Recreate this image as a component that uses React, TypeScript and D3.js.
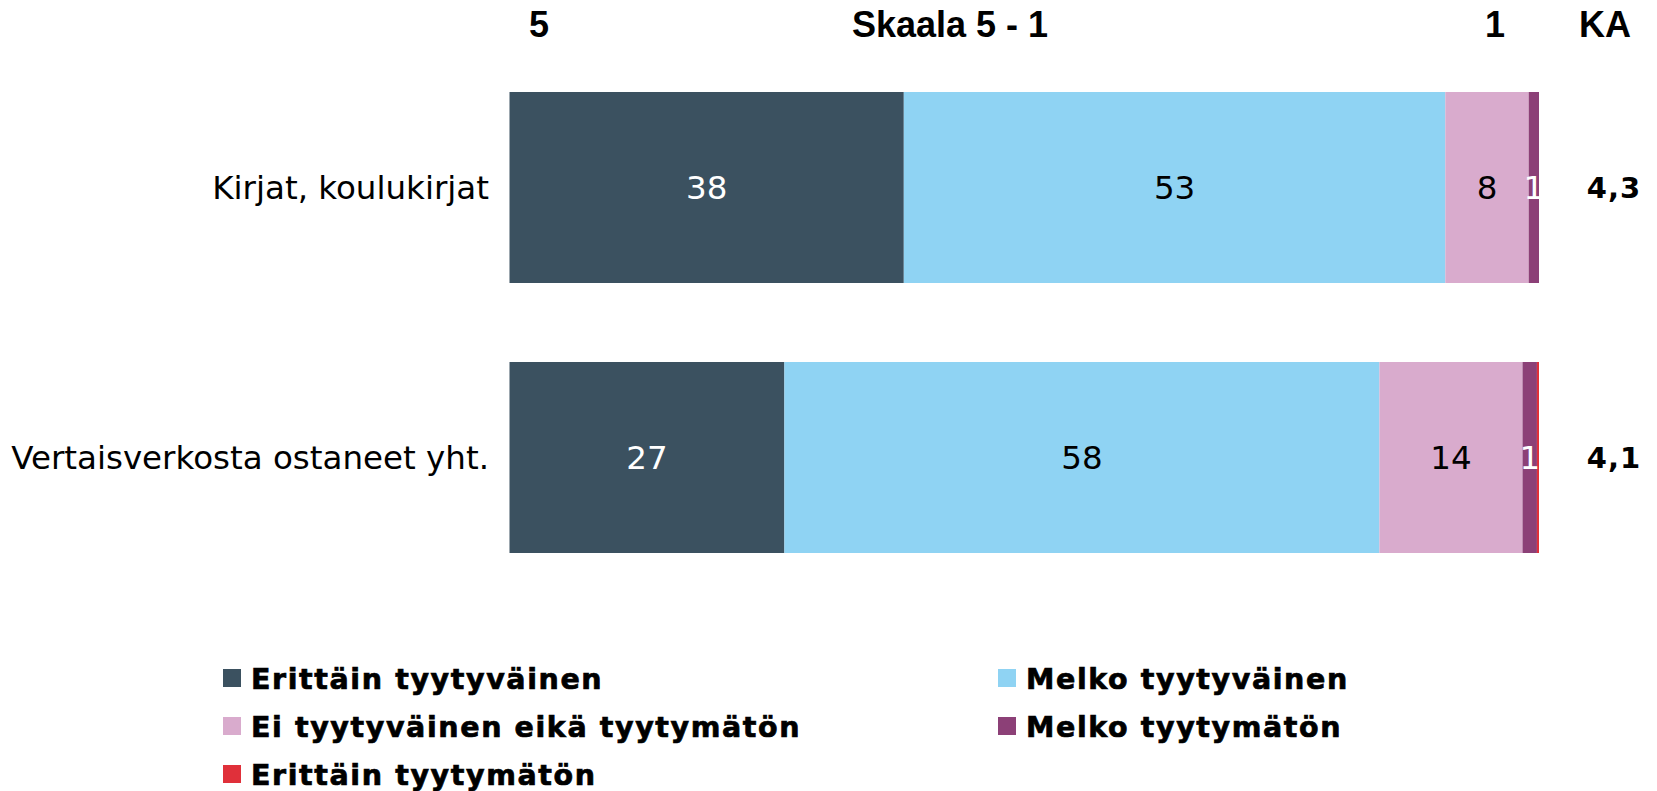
import React, { useRef, useEffect } from "react";
import * as d3 from "d3";

// rows of the chart, top to bottom
const categories = ["Kirjat, koulukirjat", "Vertaisverkosta ostaneet yht."];
const seriesNames = [
  "Erittäin tyytyväinen",
  "Melko tyytyväinen",
  "Ei tyytyväinen eikä tyytymätön",
  "Melko tyytymätön",
  "Erittäin tyytymätön",
];
const seriesColors = ["#3b5160", "#8fd3f3", "#d9abcd", "#8c4077", "#e0303a"];
const labelColors = ["#ffffff", "#000000", "#000000", "#ffffff", "#ffffff"];

// percentages per row, in series order
const kirjat = [38.3, 52.6, 8.1, 1.0, 0];
const vertais = [26.7, 57.8, 13.9, 1.4, 0.2];
const averages = ["4,3", "4,1"];

const headerLabels = ["5", "Skaala 5 - 1", "1", "KA"];

const W = 1657;
const H = 791;

const App = () => {
  const ref = useRef<SVGSVGElement | null>(null);

  useEffect(() => {
    const svg = d3.select(ref.current);
    svg.selectAll("*").remove();

    const rows = [kirjat, vertais];

    const x = d3.scaleLinear().domain([0, 100]).range([509.5, 1539]);
    const y = d3
      .scaleBand()
      .domain(categories)
      .range([52.5, 592.5])
      .paddingInner(0.2926)
      .paddingOuter(0.1463);

    const fmt = d3.format(".0f");
    const sans = "'DejaVu Sans', Verdana, sans-serif";
    const arial = "'Liberation Sans', Arial, sans-serif";

    // header
    const headerX = [539, 950, 1495, 1605];
    svg
      .append("g")
      .selectAll("text")
      .data(headerLabels)
      .enter()
      .append("text")
      .attr("x", (d, i) => headerX[i])
      .attr("y", 37)
      .attr("text-anchor", "middle")
      .attr("font-family", arial)
      .attr("font-weight", "bold")
      .attr("font-size", 36)
      .text((d) => d);

    // stacked segments
    rows.forEach((vals, r) => {
      const cat = categories[r];
      const starts = d3.cumsum([0, ...vals]);
      const g = svg.append("g");
      const segs = vals.map((v, i) => ({ v, i, x0: starts[i], x1: starts[i] + v }));

      g.selectAll("rect")
        .data(segs)
        .enter()
        .append("rect")
        .attr("x", (d) => x(d.x0))
        .attr("y", y(cat)!)
        .attr("width", (d) => Math.max(0, x(d.x1) - x(d.x0)))
        .attr("height", y.bandwidth())
        .attr("fill", (d) => seriesColors[d.i]);

      g.selectAll("text")
        .data(segs.filter((d) => d.v >= 0.5))
        .enter()
        .append("text")
        .attr("x", (d) => (x(d.x0) + x(d.x1)) / 2)
        .attr("y", y(cat)! + y.bandwidth() / 2)
        .attr("dy", "0.35em")
        .attr("text-anchor", "middle")
        .attr("font-family", sans)
        .attr("font-size", 32.5)
        .attr("fill", (d) => labelColors[d.i])
        .text((d) => fmt(d.v));

      // category label
      svg
        .append("text")
        .attr("x", 489)
        .attr("y", y(cat)! + y.bandwidth() / 2)
        .attr("dy", "0.35em")
        .attr("text-anchor", "end")
        .attr("font-family", sans)
        .attr("font-size", 32.5)
        .text(cat);

      // average
      svg
        .append("text")
        .attr("x", 1614)
        .attr("y", y(cat)! + y.bandwidth() / 2)
        .attr("dy", "0.35em")
        .attr("text-anchor", "middle")
        .attr("font-family", sans)
        .attr("font-weight", "bold")
        .attr("font-size", 29)
        .attr("letter-spacing", 1)
        .text(averages[r]);
    });

    // legend: two columns
    const legend = svg.append("g");
    const items = legend
      .selectAll("g")
      .data(seriesNames)
      .enter()
      .append("g")
      .attr("transform", (d, i) => {
        const col = i % 2;
        const row = Math.floor(i / 2);
        return `translate(${col === 0 ? 223 : 998},${669 + row * 48})`;
      });

    items
      .append("rect")
      .attr("width", 18)
      .attr("height", 18)
      .attr("fill", (d, i) => seriesColors[i]);

    items
      .append("text")
      .attr("x", 28)
      .attr("y", 20)
      .attr("font-family", sans)
      .attr("font-weight", "bold")
      .attr("font-size", 28.5)
      .attr("letter-spacing", 1.6)
      .attr("stroke", "#000")
      .attr("stroke-width", 0.7)
      .text((d) => d);
  }, []);

  return (
    <svg
      ref={ref}
      width={W}
      height={H}
      style={{ position: "absolute", left: 0, top: 0, background: "#fff" }}
    />
  );
};

export default App;
